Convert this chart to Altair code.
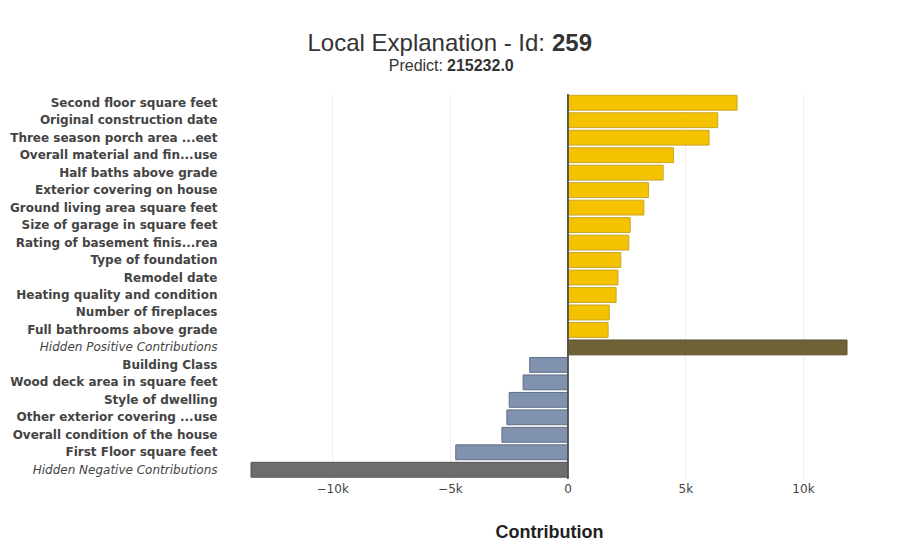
import altair as alt
import pandas as pd

features = [
    "Second floor square feet",
    "Original construction date",
    "Three season porch area ...eet",
    "Overall material and fin...use",
    "Half baths above grade",
    "Exterior covering on house",
    "Ground living area square feet",
    "Size of garage in square feet",
    "Rating of basement finis...rea",
    "Type of foundation",
    "Remodel date",
    "Heating quality and condition",
    "Number of fireplaces",
    "Full bathrooms above grade",
    "Hidden Positive Contributions",
    "Building Class",
    "Wood deck area in square feet",
    "Style of dwelling",
    "Other exterior covering ...use",
    "Overall condition of the house",
    "First Floor square feet",
    "Hidden Negative Contributions",
]
contributions = [7200, 6380, 6010, 4500, 4060, 3440, 3240, 2660, 2600, 2260, 2140,
                 2060, 1770, 1720, 11870, -1610, -1890, -2480, -2580, -2790, -4750,
                 -13450]
groups = ["positive"] * 14 + ["hidden positive"] + ["negative"] * 6 + ["hidden negative"]

group_names = ["positive", "hidden positive", "negative", "hidden negative"]
fill_colors = ["#f5c200", "#6f6236", "#8192ae", "#6d6d6d"]
stroke_colors = ["#c9a626", "#5a5030", "#5f6d87", "#555555"]

x_ticks = [-10000, -5000, 0, 5000, 10000]

df = pd.DataFrame({"feature": features, "contribution": contributions, "group": groups})

label_font = "DejaVu Sans"

bars = alt.Chart(df).mark_bar(strokeWidth=1).encode(
    y=alt.Y(
        "feature:N",
        sort=features,
        scale=alt.Scale(paddingInner=0.15, paddingOuter=0.075),
        axis=alt.Axis(
            title=None,
            ticks=False,
            domain=False,
            grid=False,
            labelFont=label_font,
            labelFontSize=12,
            labelColor="#444444",
            labelPadding=34,
            labelLimit=400,
            labelFontWeight=alt.ExprRef(expr="indexof(datum.value, 'Hidden') == 0 ? 'normal' : 'bold'"),
            labelFontStyle=alt.ExprRef(expr="indexof(datum.value, 'Hidden') == 0 ? 'italic' : 'normal'"),
        ),
    ),
    x=alt.X(
        "contribution:Q",
        scale=alt.Scale(nice=False),
        axis=alt.Axis(
            title="Contribution",
            values=x_ticks,
            labelExpr="datum.value == 0 ? '0' : format(datum.value, '~s')",
            ticks=False,
            domain=False,
            grid=True,
            gridColor="#eeeeee",
            gridWidth=1,
            labelFont=label_font,
            labelFontSize=12,
            labelColor="#444444",
            labelPadding=5,
            titleFont="Liberation Sans",
            titleFontSize=18,
            titleFontWeight="bold",
            titleColor="#222222",
            titleBaseline="alphabetic",
            titleY=59,
        ),
    ),
    fill=alt.Fill("group:N", scale=alt.Scale(domain=group_names, range=fill_colors), legend=None),
    stroke=alt.Stroke("group:N", scale=alt.Scale(domain=group_names, range=stroke_colors), legend=None),
)

zero = alt.Chart(df).mark_rule(color="#555555", strokeWidth=1).encode(x=alt.datum(0))

one = alt.Data(values=[{"a": 1}])
title_font = "Liberation Sans"
t1 = alt.Chart(one).mark_text(font=title_font, fontSize=24, align="right", baseline="alphabetic",
                              color="#333333", text="Local Explanation - Id:").encode(
    x=alt.value(294), y=alt.value(-43))
t2 = alt.Chart(one).mark_text(font=title_font, fontSize=24, fontWeight="bold", align="left",
                              baseline="alphabetic", color="#333333", text="259").encode(
    x=alt.value(301), y=alt.value(-43))
s1 = alt.Chart(one).mark_text(font=title_font, fontSize=16, align="right", baseline="alphabetic",
                              color="#333333", text="Predict:").encode(
    x=alt.value(192), y=alt.value(-23))
s2 = alt.Chart(one).mark_text(font=title_font, fontSize=16, fontWeight="bold", align="left",
                              baseline="alphabetic", color="#333333", text="215232.0").encode(
    x=alt.value(196), y=alt.value(-23))

chart = alt.layer(bars, zero, t1, t2, s1, s2).properties(
    width=596,
    height=384.5,
    autosize=alt.AutoSizeParams(type="none"),
    padding={"left": 251, "top": 94, "right": 53, "bottom": 72},
    background="white",
).configure_view(stroke=None)

chart.save("out.html", embed_options={"renderer": "svg", "actions": False})
